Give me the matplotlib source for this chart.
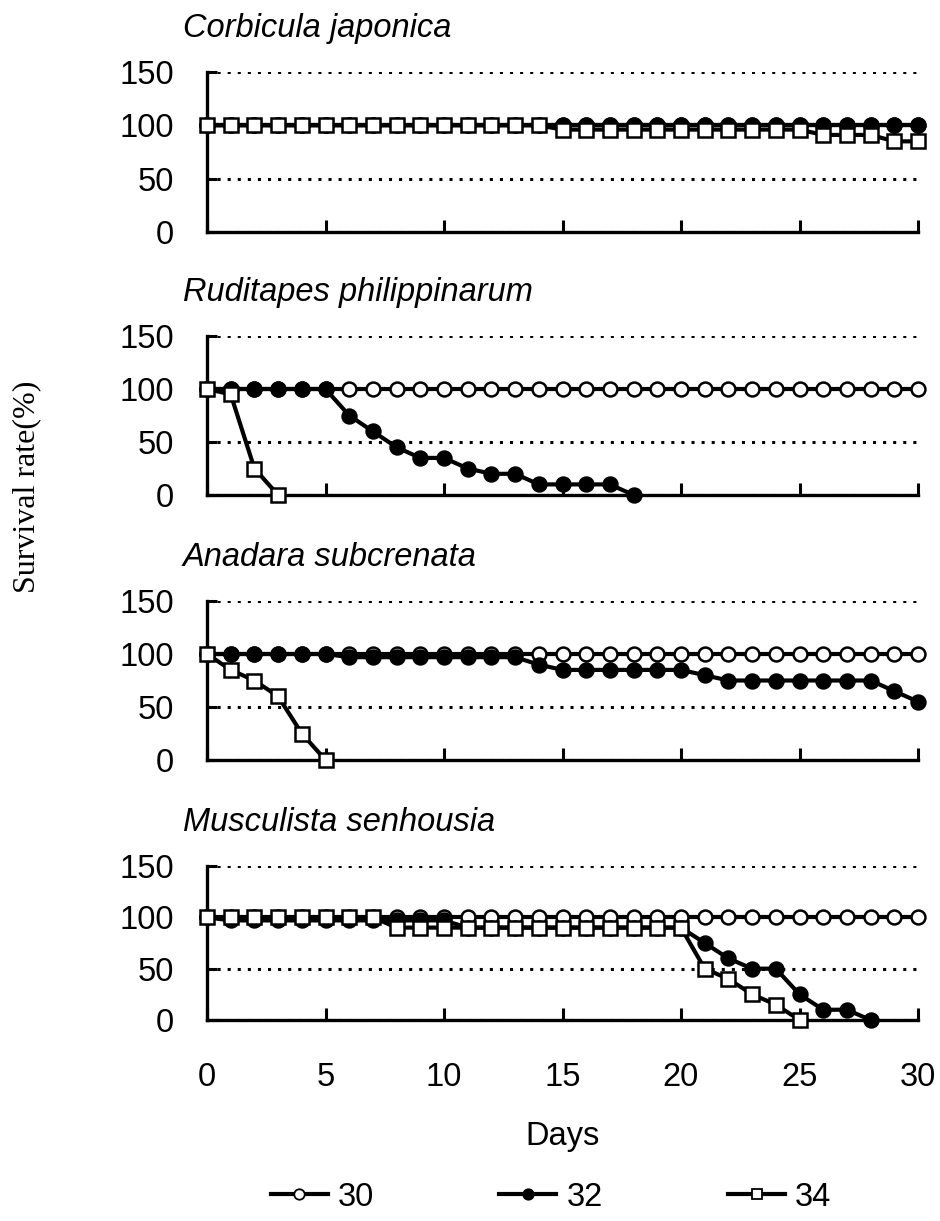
import numpy as np
import matplotlib.pyplot as plt
from matplotlib.lines import Line2D

plt.rcParams['font.family'] = ['Liberation Sans', 'DejaVu Sans']

days = np.arange(31)
temps = ['30', '32', '34']
species = ['Corbicula japonica', 'Ruditapes philippinarum',
           'Anadara subcrenata', 'Musculista senhousia']

# survival (%) per day, one list per temperature
cj_30 = [100, 100, 100, 100, 100, 100, 100, 100, 100, 100, 100, 100, 100, 100, 100, 100,
         100, 100, 100, 100, 100, 100, 100, 100, 100, 100, 100, 100, 100, 100, 100]
cj_32 = [100, 100, 100, 100, 100, 100, 100, 100, 100, 100, 100, 100, 100, 100, 100, 100,
         100, 100, 100, 100, 100, 100, 100, 100, 100, 100, 100, 100, 100, 100, 100]
cj_34 = [100, 100, 100, 100, 100, 100, 100, 100, 100, 100, 100, 100, 100, 100, 100, 96,
         96, 96, 96, 96, 96, 96, 96, 96, 96, 96, 91, 91, 91, 85, 85]

rp_30 = [100, 100, 100, 100, 100, 100, 100, 100, 100, 100, 100, 100, 100, 100, 100, 100,
         100, 100, 100, 100, 100, 100, 100, 100, 100, 100, 100, 100, 100, 100, 100]
rp_32 = [100, 100, 100, 100, 100, 100, 75, 60, 45, 35, 35, 25, 20, 20, 10, 10, 10, 10, 0]
rp_34 = [100, 95, 25, 0]

as_30 = [100, 100, 100, 100, 100, 100, 100, 100, 100, 100, 100, 100, 100, 100, 100, 100,
         100, 100, 100, 100, 100, 100, 100, 100, 100, 100, 100, 100, 100, 100, 100]
as_32 = [100, 100, 100, 100, 100, 100, 97, 97, 97, 97, 97, 97, 97, 97, 90, 85,
         85, 85, 85, 85, 85, 80, 75, 75, 75, 75, 75, 75, 75, 65, 55]
as_34 = [100, 85, 75, 60, 25, 0]

ms_30 = [100, 100, 100, 100, 100, 100, 100, 100, 100, 100, 100, 100, 100, 100, 100, 100,
         100, 100, 100, 100, 100, 100, 100, 100, 100, 100, 100, 100, 100, 100, 100]
ms_32 = [100, 97, 97, 97, 97, 97, 97, 97, 97, 97, 97, 90, 90, 90, 90, 90,
         90, 90, 90, 90, 90, 75, 60, 50, 50, 25, 10, 10, 0]
ms_34 = [100, 100, 100, 100, 100, 100, 100, 100, 90, 90, 90, 90, 90, 90, 90, 90,
         90, 90, 90, 90, 90, 50, 40, 25, 15, 0]

panels = [(cj_30, cj_32, cj_34), (rp_30, rp_32, rp_34),
          (as_30, as_32, as_34), (ms_30, ms_32, ms_34)]

styles = {
    '30': dict(marker='o', markerfacecolor='white', markersize=10),
    '32': dict(marker='o', markerfacecolor='black', markersize=10),
    '34': dict(marker='s', markerfacecolor='white', markersize=10.5),
}

W, H = 940, 1221
fig = plt.figure(figsize=(W / 100, H / 100), dpi=100)

# pixel rows of the 150 line and the 0 line for each panel
rows = [(72, 232), (336, 495), (601, 760), (866, 1020)]

for i, (name, series) in enumerate(zip(species, panels)):
    top, bot = rows[i]
    ax = fig.add_axes([207 / W, 1 - bot / H, 711 / W, (bot - top) / H])

    for t, vals in zip(temps, series):
        ax.plot(days[:len(vals)], vals, color='black', lw=3.0,
                markeredgecolor='black', markeredgewidth=1.8,
                clip_on=False, zorder=3, **styles[t])

    ax.set_xlim(0, 30)
    ax.set_ylim(0, 150)
    ax.set_yticks([0, 50, 100, 150])
    ax.set_xticks([0, 5, 10, 15, 20, 25, 30])
    ax.yaxis.grid(True, color='black', lw=2.2, linestyle=(0, (1.0, 2.3)))
    ax.set_axisbelow(True)

    for s in ['top', 'right']:
        ax.spines[s].set_visible(False)
    for s in ['left', 'bottom']:
        ax.spines[s].set_linewidth(2.4)

    ax.tick_params(axis='y', direction='in', length=7, width=2.2,
                   labelsize=23.5, pad=24)
    ax.tick_params(axis='x', direction='in', length=9, width=2.2,
                   labelsize=23.5, pad=30)
    if i < 3:
        ax.tick_params(axis='x', labelbottom=False)

    fig.text(183 / W, 1 - (top - 35) / H, name, fontsize=23.5,
             style='italic', ha='left', va='baseline')

fig.text(27 / W, 1 - 487 / H, 'Survival rate(%)', rotation=90,
         family=['Liberation Serif', 'DejaVu Serif'], fontsize=23,
         ha='center', va='center')
fig.text(563 / W, 1 - 1137 / H, 'Days', fontsize=23.5, ha='center', va='center')

handles = [Line2D([], [], color='black', lw=3.0, markeredgecolor='black',
                  markeredgewidth=1.3,
                  **{**styles[t], 'markersize': 7.5}) for t in temps]
fig.legend(handles, temps, loc='center', bbox_to_anchor=(551 / W, 1 - 1197 / H),
           ncol=3, frameon=False, fontsize=23.5, handlelength=1.75,
           handletextpad=0.3, columnspacing=3.85)

fig.savefig('out.png', dpi=100)
